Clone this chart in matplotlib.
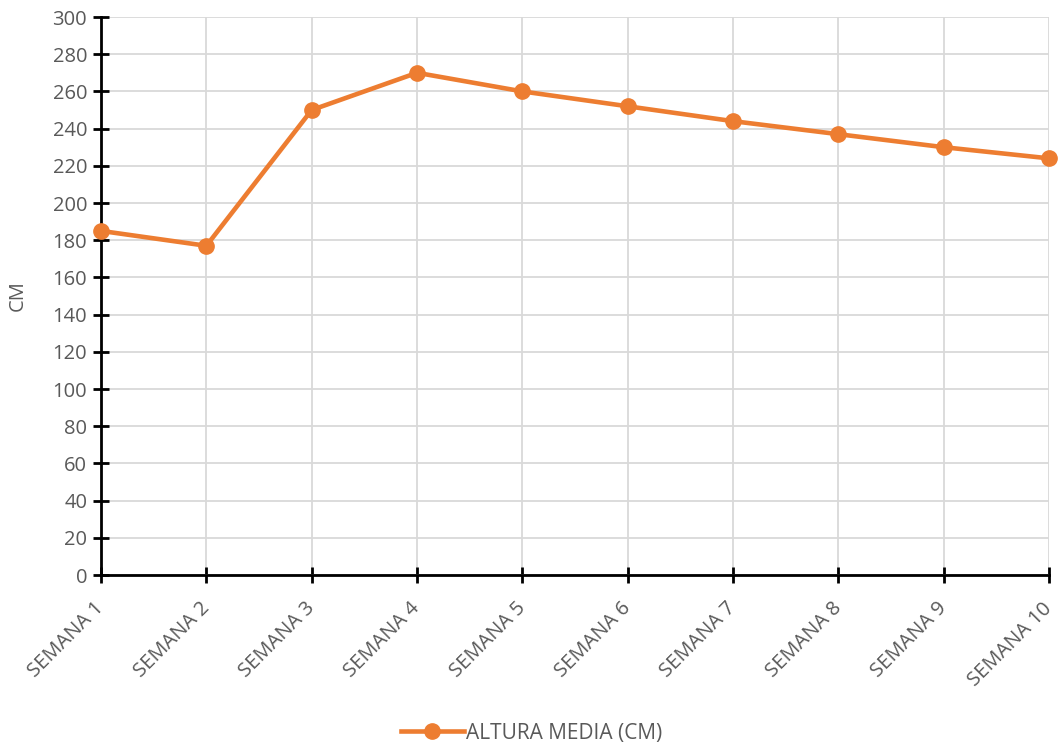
import matplotlib.pyplot as plt

plt.rcParams['font.family'] = ['Open Sans', 'DejaVu Sans']

semanas = ['SEMANA 1', 'SEMANA 2', 'SEMANA 3', 'SEMANA 4', 'SEMANA 5',
           'SEMANA 6', 'SEMANA 7', 'SEMANA 8', 'SEMANA 9', 'SEMANA 10']
altura = [185, 177, 250, 270, 260, 252, 244, 237, 230, 224]

text_color = '#595959'
orange = '#ED7D31'

fig = plt.figure(figsize=(10.59, 7.49), dpi=100)
ax = fig.add_axes([0.0954, 0.2323, 0.8952, 0.745])

x = range(len(semanas))
ax.plot(x, altura, color=orange, linewidth=3.3, marker='o', markersize=11,
        label='ALTURA MEDIA (CM)', zorder=3, clip_on=False)

ax.set_xlim(0, len(semanas) - 1)
ax.set_ylim(0, 300)
ax.set_yticks(range(0, 301, 20))
ax.set_xticks(list(x))
ax.set_xticklabels(semanas, rotation=45, ha='right', va='center',
                   rotation_mode='anchor')

ax.grid(True, color='#D9D9D9', linewidth=1.3)
ax.set_axisbelow(True)
for side in ['top', 'right']:
    ax.spines[side].set_visible(False)
for side in ['left', 'bottom']:
    ax.spines[side].set_linewidth(2)
    ax.spines[side].set_color('black')

ax.tick_params(axis='both', direction='inout', length=12, width=2,
               colors='black', labelcolor=text_color, labelsize=14.5)
ax.tick_params(axis='y', pad=4)
ax.tick_params(axis='x', pad=16)

ax.set_ylabel('CM', color=text_color, fontsize=14.5, labelpad=18)

fig.legend(loc='lower center', bbox_to_anchor=(0.502, -0.018), frameon=False,
           fontsize=15, labelcolor=text_color, handlelength=3,
           handletextpad=0.1)

fig.savefig('out.png', dpi=100)
